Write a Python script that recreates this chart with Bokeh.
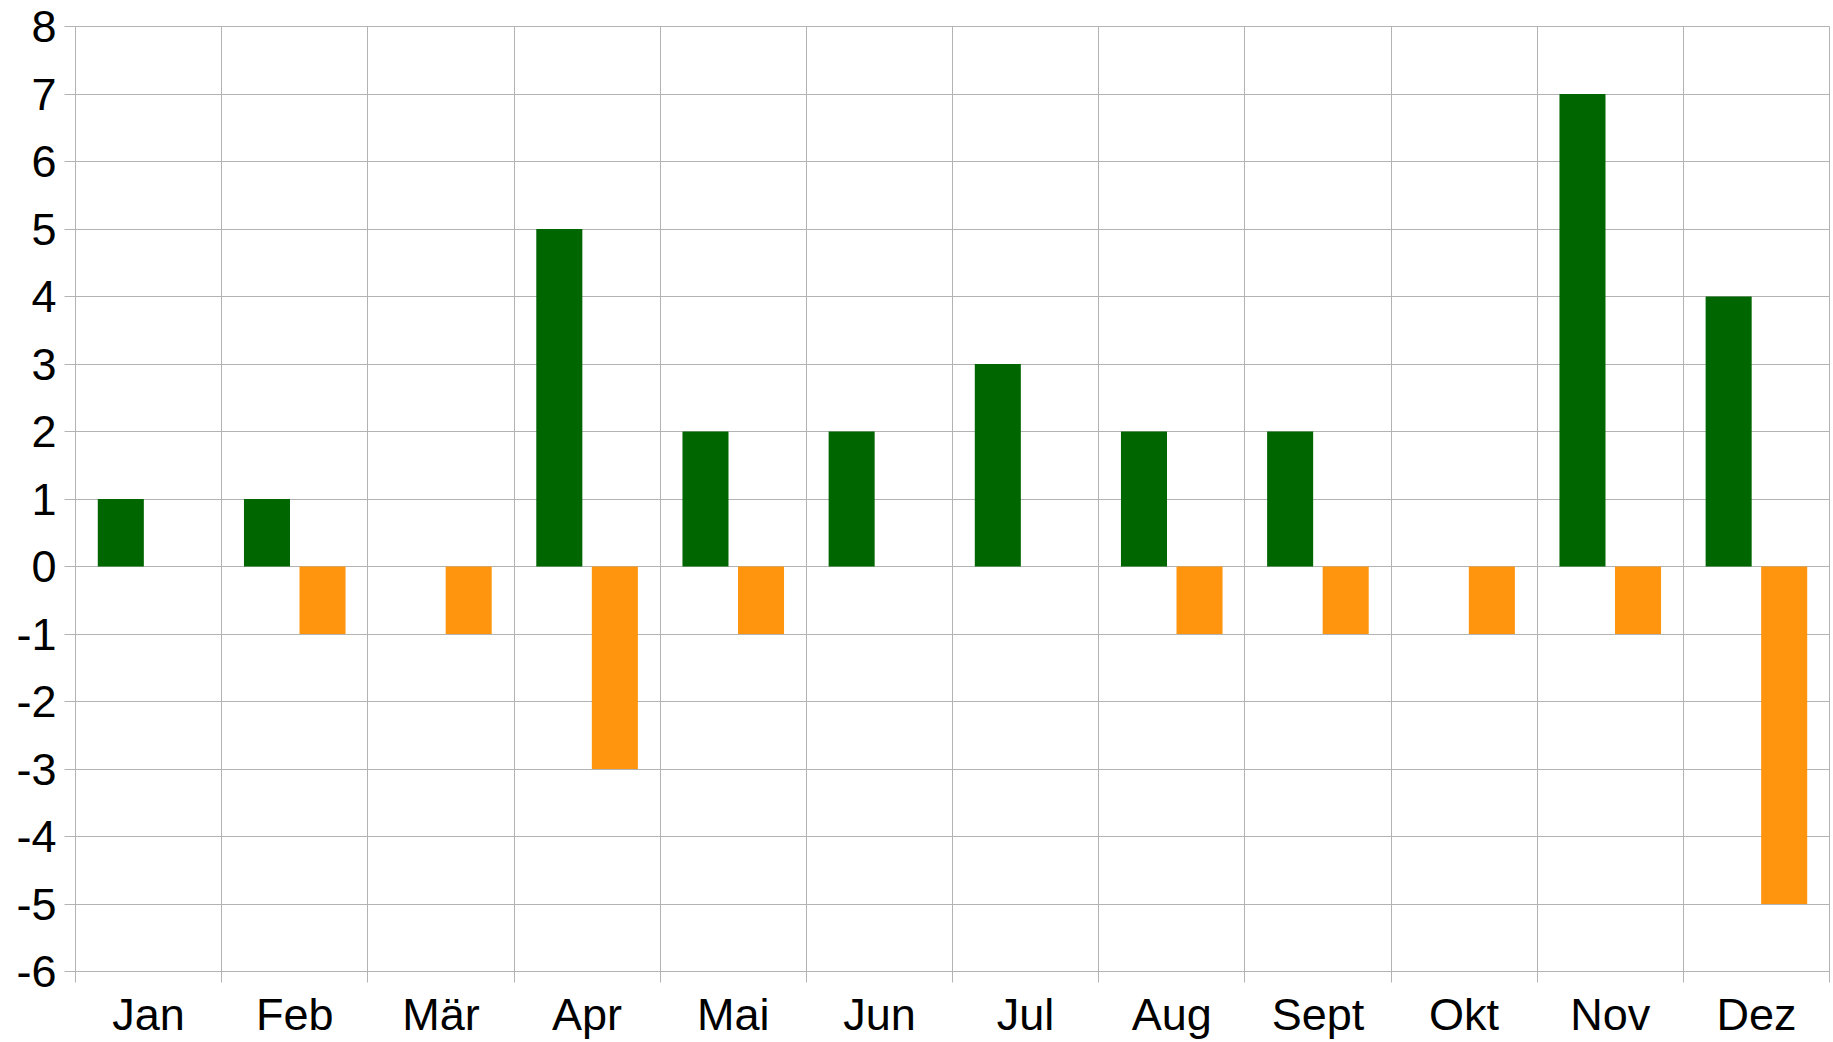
from bokeh.plotting import figure
from bokeh.models import Range1d, LinearAxis, FixedTicker, ColumnDataSource, Grid
from bokeh.embed import file_html
from bokeh.resources import INLINE

months = ["Jan", "Feb", "Mär", "Apr", "Mai", "Jun", "Jul", "Aug", "Sept", "Okt", "Nov", "Dez"]
green_vals = [1, 1, 0, 5, 2, 2, 3, 2, 2, 0, 7, 4]
orange_vals = [0, -1, -1, -3, -1, 0, 0, -1, -1, -1, -1, -5]
y_ticks = list(range(-6, 9))
y_labels = {t: str(t) for t in y_ticks}

GRID = "#b3b3b3"
FONT = "Liberation Sans"
BAR_W = 0.315
OFF = 0.19

idx = list(range(len(months)))
src = ColumnDataSource(dict(
    xg=[i + 0.5 - OFF for i in idx],
    xo=[i + 0.5 + OFF for i in idx],
    g=green_vals, o=orange_vals,
))

p = figure(width=1833, height=1042, output_backend="svg", toolbar_location=None,
           x_range=Range1d(0, len(months)), y_range=Range1d(-6, 8),
           x_axis_type=None, min_border_left=75, min_border_top=26,
           min_border_right=4, min_border_bottom=0)
p.outline_line_color = GRID
p.background_fill_color = "white"
p.border_fill_color = "white"

p.vbar(x="xg", top="g", bottom=0, width=BAR_W, source=src, color="#006600", line_color=None)
p.vbar(x="xo", top="o", bottom=0, width=BAR_W, source=src, color="#ff950e", line_color=None)

# y axis
ya = p.yaxis[0]
ya.ticker = FixedTicker(ticks=y_ticks)
ya.major_label_overrides = y_labels
ya.axis_line_color = None
ya.major_tick_line_color = GRID
ya.major_tick_out = 11
ya.major_tick_in = 0
ya.minor_tick_line_color = None
ya.major_label_text_font = FONT
ya.major_label_text_font_size = "45px"
ya.major_label_text_color = "black"
ya.major_label_standoff = 8

p.ygrid.ticker = FixedTicker(ticks=y_ticks)
p.ygrid.grid_line_color = GRID

# boundary tick axis
bounds = list(range(len(months) + 1))
tick_axis = LinearAxis(ticker=FixedTicker(ticks=bounds))
tick_axis.axis_line_color = None
tick_axis.major_tick_line_color = GRID
tick_axis.major_tick_out = 11
tick_axis.major_tick_in = 0
tick_axis.minor_tick_line_color = None
tick_axis.major_label_text_font_size = "1px"
tick_axis.major_label_text_alpha = 0
tick_axis.major_label_standoff = 0
p.add_layout(tick_axis, "below")

# label axis
centers = [i + 0.5 for i in idx]
lab_axis = LinearAxis(ticker=FixedTicker(ticks=centers),
                      major_label_overrides={c: m for c, m in zip(centers, months)})
lab_axis.axis_line_color = None
lab_axis.major_tick_line_color = None
lab_axis.minor_tick_line_color = None
lab_axis.major_label_text_font = FONT
lab_axis.major_label_text_font_size = "45px"
lab_axis.major_label_text_color = "black"
lab_axis.major_label_standoff = 0
p.add_layout(lab_axis, "below")

p.xgrid.visible = False
xg = Grid(dimension=0, ticker=FixedTicker(ticks=bounds), grid_line_color=GRID)
p.add_layout(xg)

open("out.html", "w").write(file_html(p, INLINE))
